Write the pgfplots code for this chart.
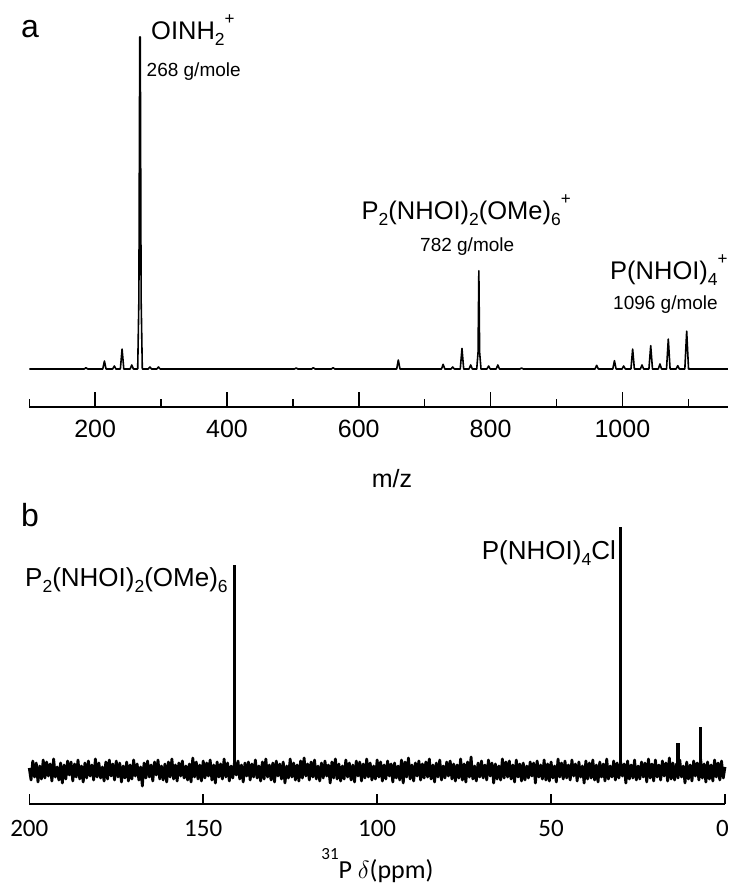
\documentclass[border=0pt]{standalone}
\usepackage{pgfplots}
\pgfplotsset{compat=1.18}
\usepackage{fontspec}
\setmainfont{Liberation Sans}
\newfontfamily\calfont{Carlito}
\newcommand\sub[1]{\raisebox{-0.2em}{\fontsize{17.5}{17.5}\selectfont #1}}
\newcommand\supr[1]{\raisebox{0.62em}{\fontsize{17}{17}\selectfont #1}}
\newcommand\fs[1]{\fontsize{#1}{#1}\selectfont}
\begin{document}
\begin{tikzpicture}[x=1pt,y=1pt]
\path[use as bounding box] (0,0) rectangle (729,886);
% ---------- panel a ----------
\begin{axis}[
  at={(29.3pt,479pt)}, anchor=south west,
  scale only axis, width=698.5pt, height=370pt,
  xmin=100, xmax=1160, ymin=-11.45, ymax=100,
  axis x line=bottom, hide y axis, clip=false,
  x axis line style={-, line width=1.6pt},
  xtick={200,400,600,800,1000},
  minor xtick={100,300,500,700,900,1100},
  xtick align=inside,
  major tick length=15pt, minor tick length=7.5pt,
  every tick/.style={black, line width=1.5pt},
  every minor tick/.style={black, line width=1.5pt},
  /pgf/number format/1000 sep={},
  /pgf/number format/assume math mode=true,
  xticklabel style={font=\fs{25}, inner sep=0pt, yshift=-13pt, anchor=north},
]
\addplot[black, line width=1.6pt, line join=round] coordinates {
(100,0)(183.5,0)(186,0.4)(188.5,0)
(211.5,0)(214,2.4)(216.5,0)
(226.5,0)(229,0.9)(231.5,0)
(238.2,0)(240.8,6.0)(243.4,0)
(253,0)(255.5,1.2)(258,0)
(264.5,0)(266.3,21)(267.6,100)(268.4,100)(269.7,21)(271.5,0)
(280.5,0)(283,0.6)(285.5,0)
(293.5,0)(296,0.6)(298.5,0)
(502.5,0)(505,0.3)(507.5,0)
(528.5,0)(531,0.4)(533.5,0)
(558.5,0)(561,0.4)(563.5,0)
(657.5,0)(660,2.7)(662.5,0)
(725.5,0)(728,1.4)(730.5,0)
(740,0)(742.5,0.6)(745,0)
(754,0)(756.6,6.2)(759.2,0)
(767.3,0)(769.8,1.2)(772.3,0)
(779,0)(781,5)(782.2,29.6)(783.4,5)(785.5,0)
(794.5,0)(797,0.9)(799.5,0)
(808.5,0)(811,1.2)(813.5,0)
(844.5,0)(847,0.3)(849.5,0)
(958.5,0)(961,1.1)(963.5,0)
(985.5,0)(988,2.5)(990.5,0)
(999.5,0)(1002,0.9)(1004.5,0)
(1013,0)(1015.6,6.0)(1018.2,0)
(1027.3,0)(1029.8,1.2)(1032.3,0)
(1040.3,0)(1043,7.0)(1045.7,0)
(1054.5,0)(1057,1.5)(1059.5,0)
(1067,0)(1069.7,9.0)(1072.4,0)
(1081.5,0)(1084,1.0)(1086.5,0)
(1094.8,0)(1097.6,11.4)(1100.4,0)
(1160,0)};
\end{axis}
% ---------- panel b ----------
\begin{axis}[
  at={(29.3pt,82pt)}, anchor=south west,
  scale only axis, width=695.7pt, height=277pt,
  xmin=0, xmax=200, x dir=reverse, ymin=-33, ymax=244,
  axis x line=bottom, hide y axis, clip=false,
  x axis line style={-, line width=1.6pt},
  xtick={0,50,100,150,200}, minor xtick={},
  xticklabels={{\hspace*{-5pt}0},50,100,150,200},
  xtick align=inside,
  major tick length=10pt,
  every tick/.style={black, line width=1.5pt},
  xticklabel style={font=\calfont\fs{25}, inner sep=0pt, yshift=-16pt, anchor=north},
]
\addplot[black, line width=2.8pt, line join=round] coordinates {
(200.0,3)(199.5,-9)(199.0,10)(198.5,-6)(198.0,8)(197.5,-11)(197.0,5)(196.5,-8)(196.0,11)(195.5,-7)
(195.0,9)(194.5,-5)(194.0,7)(193.5,-10)(193.0,12)(192.5,-6)(192.0,4)(191.5,-9)(191.0,8)(190.5,-12)
(190.0,6)(189.5,-8)(189.0,10)(188.5,-4)(188.0,9)(187.5,-10)(187.0,7)(186.5,-6)(186.0,11)(185.5,-8)
(185.0,5)(184.5,-11)(184.0,8)(183.5,-7)(183.0,10)(182.5,-5)(182.0,6)(181.5,-9)(181.0,12)(180.5,-6)
(180.0,8)(179.5,-7)(179.0,4)(178.5,-10)(178.0,9)(177.5,-8)(177.0,11)(176.5,-5)(176.0,7)(175.5,-9)
(175.0,10)(174.5,-6)(174.0,8)(173.5,-11)(173.0,5)(172.5,-7)(172.0,9)(171.5,-10)(171.0,6)(170.5,-8)
(170.0,11)(169.5,-5)(169.0,7)(168.5,-9)(168.0,4)(167.5,-15)(167.0,8)(166.5,-7)(166.0,10)(165.5,-6)
(165.0,6)(164.5,-10)(164.0,9)(163.5,-4)(163.0,11)(162.5,-8)(162.0,5)(161.5,-9)(161.0,7)(160.5,-11)
(160.0,9)(159.5,-6)(159.0,12)(158.5,-8)(158.0,6)(157.5,-10)(157.0,8)(156.5,-5)(156.0,10)(155.5,-7)
(155.0,5)(154.5,-9)(154.0,7)(153.5,-11)(153.0,13)(152.5,-6)(152.0,9)(151.5,-8)(151.0,6)(150.5,-10)
(150.0,10)(149.5,-7)(149.0,8)(148.5,-5)(148.0,11)(147.5,-9)(147.0,6)(146.5,-12)(146.0,9)(145.5,-6)
(145.0,7)(144.5,-8)(144.0,12)(143.5,-6)(143.0,8)(142.5,-10)(142.0,5)(141.5,-7)(141.0,9)(140.5,-4)
(140.0,10)(139.5,-8)(139.0,6)(138.5,-11)(138.0,8)(137.5,-5)(137.0,9)(136.5,-9)(136.0,7)(135.5,-6)
(135.0,11)(134.5,-7)(134.0,5)(133.5,-10)(133.0,9)(132.5,-8)(132.0,12)(131.5,-6)(131.0,6)(130.5,-9)
(130.0,8)(129.5,-11)(129.0,10)(128.5,-5)(128.0,7)(127.5,-8)(127.0,9)(126.5,-12)(126.0,5)(125.5,-7)
(125.0,12)(124.5,-6)(124.0,8)(123.5,-9)(123.0,6)(122.5,-10)(122.0,10)(121.5,-7)(121.0,13)(120.5,-5)
(120.0,7)(119.5,-9)(119.0,9)(118.5,-6)(118.0,11)(117.5,-8)(117.0,5)(116.5,-10)(116.0,8)(115.5,-7)
(115.0,10)(114.5,-5)(114.0,6)(113.5,-12)(113.0,9)(112.5,-7)(112.0,12)(111.5,-8)(111.0,7)(110.5,-10)
(110.0,5)(109.5,-8)(109.0,11)(108.5,-6)(108.0,8)(107.5,-9)(107.0,6)(106.5,-11)(106.0,10)(105.5,-5)
(105.0,9)(104.5,-10)(104.0,7)(103.5,-7)(103.0,12)(102.5,-6)(102.0,8)(101.5,-9)(101.0,5)(100.5,-8)
(100.0,11)(99.5,-6)(99.0,9)(98.5,-10)(98.0,6)(97.5,-8)(97.0,10)(96.5,-5)(96.0,7)(95.5,-11)
(95.0,8)(94.5,-7)(94.0,5)(93.5,-9)(93.0,11)(92.5,-12)(92.0,9)(91.5,-6)(91.0,13)(90.5,-8)
(90.0,6)(89.5,-10)(89.0,8)(88.5,-5)(88.0,10)(87.5,-9)(87.0,7)(86.5,-7)(86.0,9)(85.5,-6)
(85.0,12)(84.5,-8)(84.0,6)(83.5,-11)(83.0,8)(82.5,-6)(82.0,11)(81.5,-9)(81.0,5)(80.5,-7)
(80.0,9)(79.5,-5)(79.0,10)(78.5,-8)(78.0,7)(77.5,-10)(77.0,6)(76.5,-7)(76.0,12)(75.5,-9)
(75.0,7)(74.5,-11)(74.0,9)(73.5,-6)(73.0,14)(72.5,-8)(72.0,5)(71.5,-10)(71.0,8)(70.5,-6)
(70.0,10)(69.5,-7)(69.0,6)(68.5,-9)(68.0,11)(67.5,-5)(67.0,8)(66.5,-12)(66.0,7)(65.5,-8)
(65.0,5)(64.5,-9)(64.0,12)(63.5,-7)(63.0,9)(62.5,-6)(62.0,10)(61.5,-8)(61.0,6)(60.5,-11)
(60.0,11)(59.5,-6)(59.0,7)(58.5,-10)(58.0,8)(57.5,-9)(57.0,5)(56.5,-7)(56.0,9)(55.5,-5)
(55.0,8)(54.5,-12)(54.0,10)(53.5,-6)(53.0,6)(52.5,-8)(52.0,11)(51.5,-9)(51.0,7)(50.5,-10)
(50.0,9)(49.5,-7)(49.0,5)(48.5,-11)(48.0,12)(47.5,-6)(47.0,8)(46.5,-8)(46.0,10)(45.5,-7)
(45.0,6)(44.5,-9)(44.0,11)(43.5,-5)(43.0,7)(42.5,-10)(42.0,9)(41.5,-6)(41.0,5)(40.5,-12)
(40.0,10)(39.5,-8)(39.0,8)(38.5,-7)(38.0,11)(37.5,-9)(37.0,6)(36.5,-11)(36.0,9)(35.5,-6)
(35.0,7)(34.5,-10)(34.0,12)(33.5,-8)(33.0,5)(32.5,-6)(32.0,10)(31.5,-9)(31.0,8)(30.5,-7)
(30.0,9)(29.5,-5)(29.0,7)(28.5,-12)(28.0,10)(27.5,-8)(27.0,6)(26.5,-7)(26.0,11)(25.5,-9)
(25.0,5)(24.5,-8)(24.0,9)(23.5,-6)(23.0,8)(22.5,-11)(22.0,12)(21.5,-7)(21.0,7)(20.5,-10)
(20.0,11)(19.5,-6)(19.0,6)(18.5,-9)(18.0,10)(17.5,-5)(17.0,8)(16.5,-10)(16.0,13)(15.5,-8)
(15.0,8)(14.5,-9)(14.0,7)(13.5,-7)(13.0,11)(12.5,-6)(12.0,5)(11.5,-12)(11.0,9)(10.5,-8)
(10.0,6)(9.5,-10)(9.0,10)(8.5,-5)(8.0,8)(7.5,-9)(7.0,12)(6.5,-7)(6.0,7)(5.5,-11)
(5.0,9)(4.5,-8)(4.0,6)(3.5,-10)(3.0,11)(2.5,-6)(2.0,8)(1.5,-9)(1.0,10)(0.5,-7)
(0.0,4)};
\addplot[ycomb, black, line width=3.2pt] coordinates {(141,206)(30,244)(13.5,28)(7,44)};
\end{axis}
% ---------- texts ----------
\node[anchor=base west, inner sep=0pt, font=\fs{32}] at (21,848.7) {a};
\node[anchor=base west, inner sep=0pt, font=\fs{25.5}] at (151,846) {OINH\sub{2}\supr{+}};
\node[anchor=base west, inner sep=0pt, font=\fs{19}] at (146.5,809.3) {268 g/mole};
\node[anchor=base west, inner sep=0pt, font=\fs{25.5}] at (361.5,666) {P\sub{2}(NHOI)\sub{2}(OMe)\sub{6}\supr{+}};
\node[anchor=base west, inner sep=0pt, font=\fs{19}] at (420,634.3) {782 g/mole};
\node[anchor=base west, inner sep=0pt, font=\fs{25.5}] at (610,606) {P(NHOI)\sub{4}\supr{+}};
\node[anchor=base west, inner sep=0pt, font=\fs{19}] at (613,576) {1096 g/mole};
\node[anchor=base, inner sep=0pt, font=\fs{25}] at (392,398) {m/z};
\node[anchor=base west, inner sep=0pt, font=\fs{32}] at (21,359.3) {b};
\node[anchor=base west, inner sep=0pt, font=\fs{26}] at (25,299) {P\sub{2}(NHOI)\sub{2}(OMe)\sub{6}};
\node[anchor=base east, inner sep=0pt, font=\fs{26}] at (616,326) {P(NHOI)\sub{4}Cl};
\node[anchor=base, inner sep=0pt, font=\calfont\fs{26}] at (377.5,8) {\raisebox{0.7em}{\fs{17}31}P $\delta$(ppm)};
\end{tikzpicture}
\end{document}
